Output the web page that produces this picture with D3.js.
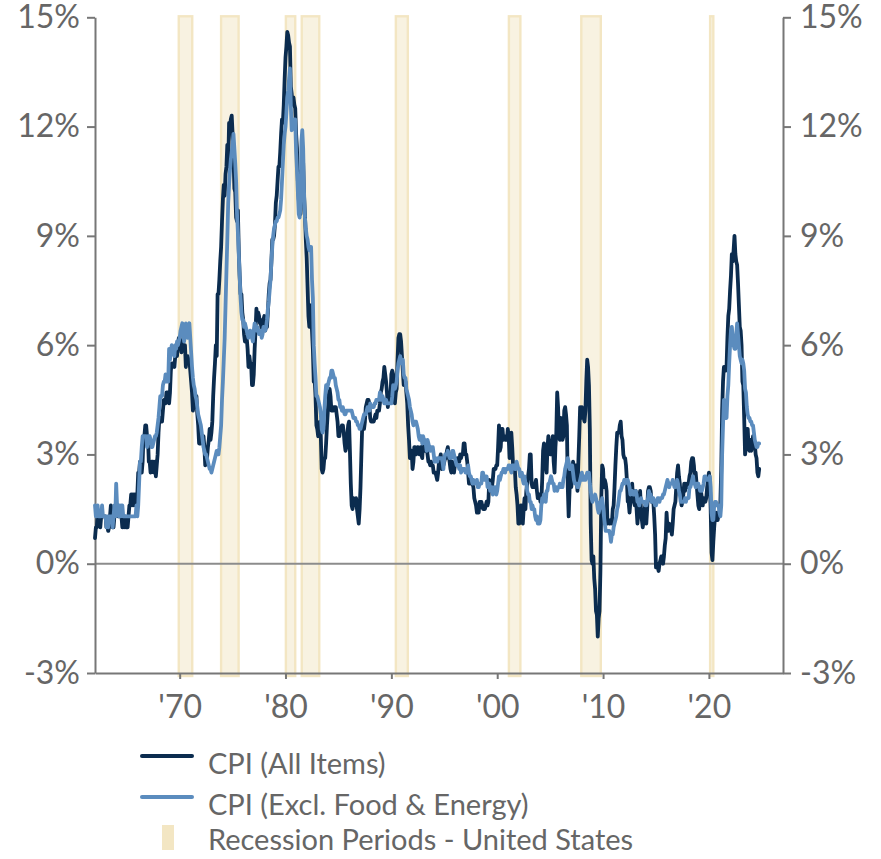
<!DOCTYPE html>
<html><head><meta charset="utf-8">
<script src="https://cdn.jsdelivr.net/npm/d3@7"></script>
<style>
body{margin:0;background:#fff}
svg{display:block}
text{font-family:Lato,"Source Sans Pro","Noto Sans",sans-serif}
</style>
</head><body>
<svg id="chart" width="881" height="859"></svg>
<script>
// ---------- DATA (monthly year-over-year %, starting Jan 1962) ----------
const startYear = 1962;
const cpiAll = [
0.7,1.0,1.0,1.3,1.3,1.3,1.0,1.3,1.3,1.3,1.3,1.3,
1.3,1.0,1.0,0.9,1.0,1.3,1.6,1.3,1.0,1.0,1.3,1.6,
1.6,1.6,1.3,1.3,1.3,1.3,1.3,1.0,1.3,1.0,1.3,1.0,
1.0,1.0,1.3,1.6,1.6,1.9,1.6,1.9,1.6,1.9,1.6,1.9,
1.9,2.5,2.5,2.8,2.8,2.5,2.8,3.5,3.5,3.8,3.8,3.5,
3.5,2.8,2.8,2.5,2.8,2.8,2.8,2.5,2.8,2.4,2.7,3.0,
3.6,4.0,4.0,3.9,3.9,4.2,4.5,4.5,4.4,4.7,4.7,4.7,
4.4,4.7,5.3,5.5,5.5,5.5,5.4,5.7,5.7,5.7,6.0,6.2,
6.2,6.1,5.8,6.1,6.0,6.0,6.0,5.4,5.7,5.7,5.6,5.6,
5.3,5.0,4.7,4.2,4.4,4.6,4.4,4.6,4.1,3.8,3.3,3.3,
3.3,3.5,3.5,3.5,3.2,2.7,2.9,2.9,3.2,3.4,3.7,3.4,
3.6,3.9,4.6,5.1,5.5,6.0,5.7,7.4,7.4,7.8,8.3,8.7,
9.4,10.0,10.4,10.1,10.7,10.9,11.5,10.9,12.1,12.0,12.2,12.3,
11.8,11.2,10.3,10.2,9.5,9.4,9.7,8.6,7.9,7.4,7.4,6.9,
6.7,6.3,6.1,6.1,6.2,5.9,5.4,5.7,5.5,5.5,4.9,4.9,
5.2,5.9,6.4,7.0,6.7,6.9,6.8,6.6,6.6,6.4,6.7,6.7,
6.8,6.4,6.6,6.5,6.9,7.4,7.7,7.8,8.3,8.9,8.9,9.0,
9.3,9.9,10.1,10.5,10.9,10.9,11.3,11.8,12.2,12.1,12.6,13.3,
13.9,14.2,14.6,14.5,14.3,14.2,13.1,12.9,12.6,12.8,12.6,12.5,
11.8,11.4,10.5,10.0,9.8,9.6,10.8,10.8,11.0,10.1,9.6,8.9,
8.4,7.6,6.8,6.5,6.7,7.1,6.4,5.9,5.0,5.1,4.6,3.8,
3.7,3.5,3.6,3.9,3.5,2.6,2.5,2.6,2.9,2.9,3.3,3.8,
4.2,4.6,4.8,4.6,4.2,4.2,4.2,4.3,4.3,4.3,4.1,3.9,
3.5,3.5,3.7,3.7,3.8,3.8,3.6,3.3,3.1,3.2,3.5,3.8,
3.9,3.1,2.2,1.6,1.5,1.8,1.6,1.6,1.8,1.5,1.3,1.1,
1.5,2.1,3.0,3.8,3.9,3.7,3.9,4.3,4.4,4.5,4.5,4.4,
4.0,3.9,3.9,3.9,3.9,4.0,4.1,4.0,4.2,4.2,4.2,4.4,
4.7,4.8,5.0,5.1,5.4,5.2,5.0,4.7,4.3,4.5,4.7,4.6,
5.2,5.3,5.2,4.7,4.4,4.7,4.8,5.6,6.2,6.3,6.3,6.1,
5.7,5.3,4.9,4.9,5.0,4.7,4.4,3.8,3.4,2.9,3.0,3.1,
2.6,2.8,3.2,3.2,3.0,3.1,3.2,3.1,3.0,3.2,3.0,2.9,
3.3,3.2,3.1,3.2,3.2,3.0,2.8,2.8,2.7,2.8,2.7,2.7,
2.5,2.5,2.5,2.4,2.3,2.5,2.8,2.9,3.0,2.6,2.7,2.7,
2.8,2.9,2.9,3.1,3.2,3.0,2.8,2.6,2.5,2.8,2.6,2.5,
2.7,2.7,2.8,2.9,2.9,2.8,3.0,2.9,3.0,3.0,3.3,3.3,
3.0,3.0,2.8,2.5,2.2,2.3,2.2,2.2,2.2,2.1,1.8,1.7,
1.6,1.4,1.4,1.4,1.7,1.7,1.7,1.6,1.5,1.5,1.5,1.6,
1.7,1.6,1.7,2.3,2.1,2.0,2.1,2.3,2.6,2.6,2.6,2.7,
2.7,3.2,3.8,3.1,3.2,3.7,3.7,3.4,3.5,3.4,3.4,3.4,
3.7,3.5,2.9,3.3,3.6,3.2,2.7,2.7,2.6,2.1,1.9,1.6,
1.1,1.1,1.5,1.6,1.2,1.1,1.5,1.8,1.5,2.0,2.2,2.4,
2.6,3.0,3.0,2.2,2.1,2.1,2.1,2.2,2.3,2.0,1.8,1.9,
1.9,1.7,1.7,2.3,3.1,3.3,3.0,2.7,2.5,3.2,3.5,3.3,
3.0,3.0,3.1,3.5,2.8,2.5,3.2,3.6,4.7,4.3,3.5,3.4,
4.0,3.6,3.4,3.5,4.2,4.3,4.1,3.8,2.1,1.3,2.0,2.5,
2.1,2.4,2.8,2.6,2.7,2.7,2.4,2.0,2.8,3.5,4.3,4.1,
4.3,4.0,4.0,3.9,4.2,5.0,5.6,5.4,4.9,3.7,1.1,0.1,
0.0,0.2,-0.4,-0.7,-1.3,-1.4,-2.0,-1.5,-1.3,-0.2,1.8,2.7,
2.6,2.1,2.3,2.2,2.0,1.1,1.2,1.1,1.1,1.2,1.1,1.5,
1.6,2.1,2.7,3.2,3.6,3.6,3.6,3.8,3.9,3.5,3.4,3.0,
2.9,2.9,2.7,2.3,1.7,1.7,1.4,1.7,2.0,2.2,1.8,1.7,
1.6,2.0,1.5,1.1,1.4,1.8,2.0,1.5,1.2,1.0,1.2,1.5,
1.6,1.1,1.5,2.0,2.1,2.1,2.0,1.7,1.7,1.7,1.3,0.8,
-0.1,0.0,-0.1,-0.2,0.0,0.1,0.2,0.2,0.0,0.2,0.5,0.7,
1.4,1.0,0.9,1.1,1.0,1.0,0.8,1.1,1.5,1.6,1.7,2.1,
2.5,2.7,2.4,2.2,1.9,1.6,1.7,1.9,2.2,2.0,2.2,2.1,
2.1,2.2,2.4,2.5,2.8,2.9,2.9,2.7,2.3,2.5,2.2,1.9,
1.6,1.5,1.9,2.0,1.8,1.6,1.8,1.7,1.7,1.8,2.1,2.3,
2.5,2.3,1.5,0.3,0.1,0.6,1.0,1.3,1.4,1.2,1.2,1.4,
1.4,1.7,2.6,4.2,5.0,5.4,5.4,5.3,5.4,6.2,6.8,7.0,
7.5,7.9,8.5,8.3,8.6,9.0,8.5,8.3,8.2,7.7,7.1,6.5,
6.4,6.0,5.0,4.9,4.0,3.0,3.2,3.7,3.7,3.2,3.1,3.4,
3.1,3.2,3.5,3.4,3.3,3.0,2.9,2.5,2.4,2.6
];
const cpiCore = [
1.6,1.3,1.3,1.6,1.3,1.3,1.3,1.3,1.6,1.3,1.3,1.3,
1.3,1.0,1.3,1.0,1.3,1.3,1.3,1.3,1.0,1.3,1.6,1.3,
2.2,1.6,1.6,1.3,1.6,1.3,1.6,1.6,1.3,1.3,1.3,1.3,
1.3,1.3,1.3,1.3,1.3,1.3,1.3,1.3,1.3,1.3,1.3,1.6,
1.3,1.6,2.2,2.8,2.8,3.2,3.5,3.5,3.5,3.5,3.5,3.2,
3.5,3.5,3.5,3.4,3.2,3.2,3.3,3.4,3.5,3.5,3.6,3.8,
4.0,4.3,4.6,4.6,4.6,4.9,5.0,5.0,5.2,5.0,5.2,5.0,
5.9,5.6,5.8,6.0,5.8,5.9,5.7,6.0,5.9,6.1,6.0,6.1,
6.2,6.4,6.5,6.6,6.4,6.1,6.3,6.6,6.3,6.2,6.5,6.6,
6.2,5.8,5.4,5.1,4.9,4.8,4.6,4.5,4.3,4.1,4.0,3.9,
3.8,3.6,3.4,3.2,3.1,3.0,3.0,2.9,2.8,2.7,2.6,2.6,
2.5,2.6,2.7,2.8,2.9,3.0,3.1,3.1,3.0,3.2,3.5,3.8,
4.5,5.0,5.6,6.2,7.1,8.0,8.9,9.9,10.4,10.8,11.1,11.3,
11.5,11.8,11.4,11.0,10.5,9.6,9.1,8.5,7.9,7.3,6.9,6.7,
6.7,6.5,6.6,6.5,6.4,6.3,6.2,6.3,6.4,6.3,6.2,6.1,
6.4,6.6,6.5,6.4,6.5,6.4,6.3,6.3,6.4,6.2,6.3,6.5,
6.4,6.4,6.5,6.7,7.0,7.2,7.5,7.8,8.3,8.7,9.0,9.2,
9.3,9.4,9.4,9.5,9.5,9.6,9.7,10.0,10.5,11.0,11.5,11.8,
12.0,12.4,12.8,13.0,13.3,13.6,12.6,11.9,12.0,12.1,12.2,12.2,
11.3,10.8,10.2,9.6,9.5,9.8,11.6,11.9,11.4,10.2,9.5,9.2,
9.0,8.9,8.7,8.6,8.7,8.7,7.8,7.3,6.0,5.5,5.1,4.6,
4.6,4.5,4.4,4.3,4.1,3.7,3.6,3.7,4.2,4.6,4.9,4.8,
4.9,5.0,5.1,5.1,5.3,5.3,5.2,5.1,5.1,4.9,4.8,4.7,
4.5,4.5,4.3,4.3,4.2,4.3,4.2,4.1,4.1,4.2,4.2,4.2,
4.2,4.2,4.2,4.2,4.1,4.0,4.0,4.0,3.9,3.9,3.8,3.8,
3.7,3.7,3.8,3.9,4.0,4.1,4.1,4.1,4.2,4.3,4.2,4.2,
4.4,4.3,4.3,4.3,4.3,4.4,4.4,4.5,4.5,4.5,4.5,4.7,
4.5,4.5,4.6,4.5,4.4,4.4,4.5,4.4,4.4,4.4,4.4,4.4,
4.4,4.6,4.9,4.8,4.8,4.9,5.0,5.3,5.5,5.6,5.7,5.5,
5.6,5.6,5.2,5.1,5.1,4.8,4.7,4.6,4.5,4.3,4.2,4.1,
3.9,3.8,3.9,3.9,3.9,3.8,3.7,3.5,3.4,3.5,3.5,3.3,
3.5,3.4,3.4,3.3,3.1,3.4,3.3,3.2,3.1,3.2,3.1,3.2,
3.0,2.8,2.9,2.8,2.8,2.9,2.9,2.9,2.9,2.9,2.8,2.6,
2.9,3.0,3.0,3.0,3.1,3.0,2.9,3.0,2.9,3.1,3.1,3.0,
2.9,2.8,2.7,2.7,2.7,2.6,2.7,2.5,2.6,2.6,2.6,2.6,
2.5,2.5,2.5,2.7,2.5,2.4,2.4,2.3,2.2,2.3,2.2,2.2,
2.2,2.3,2.1,2.1,2.2,2.2,2.2,2.5,2.5,2.3,2.3,2.4,
2.4,2.1,2.1,2.2,2.0,2.1,2.1,1.9,2.0,2.1,2.1,1.9,
2.0,2.2,2.4,2.3,2.4,2.5,2.5,2.6,2.6,2.5,2.6,2.6,
2.6,2.7,2.7,2.6,2.5,2.7,2.7,2.7,2.6,2.6,2.8,2.7,
2.6,2.6,2.4,2.5,2.5,2.3,2.2,2.4,2.2,2.2,2.0,1.9,
1.9,1.7,1.7,1.5,1.6,1.5,1.5,1.3,1.2,1.3,1.1,1.1,
1.1,1.2,1.6,1.8,1.7,1.9,1.8,1.7,2.0,2.0,2.2,2.2,
2.3,2.4,2.3,2.2,2.2,2.0,2.1,2.1,2.0,2.1,2.1,2.2,
2.1,2.1,2.1,2.3,2.4,2.6,2.7,2.8,2.9,2.8,2.6,2.6,
2.7,2.7,2.5,2.3,2.2,2.2,2.2,2.1,2.1,2.2,2.3,2.4,
2.5,2.3,2.4,2.3,2.3,2.4,2.5,2.5,2.5,2.2,2.0,1.8,
1.7,1.8,1.8,1.9,1.8,1.7,1.5,1.4,1.5,1.7,1.7,1.8,
1.6,1.3,1.1,0.9,0.9,0.9,0.9,0.9,0.8,0.6,0.8,0.8,
1.0,1.1,1.2,1.3,1.5,1.6,1.8,2.0,2.0,2.1,2.2,2.2,
2.3,2.2,2.3,2.3,2.3,2.2,2.1,1.9,2.0,2.0,1.9,1.9,
1.9,2.0,1.9,1.7,1.7,1.6,1.7,1.8,1.7,1.7,1.7,1.7,
1.6,1.6,1.7,1.8,2.0,1.9,1.9,1.7,1.7,1.8,1.7,1.6,
1.6,1.7,1.8,1.8,1.7,1.8,1.8,1.8,1.9,1.9,2.0,2.1,
2.2,2.3,2.2,2.1,2.2,2.2,2.2,2.3,2.2,2.1,2.1,2.2,
2.3,2.2,2.0,1.9,1.7,1.7,1.7,1.7,1.7,1.8,1.7,1.8,
1.8,1.8,2.1,2.1,2.2,2.3,2.4,2.2,2.2,2.1,2.2,2.2,
2.2,2.1,2.0,2.1,2.0,2.1,2.2,2.4,2.4,2.3,2.3,2.3,
2.3,2.4,2.1,1.4,1.2,1.2,1.6,1.7,1.7,1.6,1.6,1.6,
1.4,1.3,1.6,3.0,3.8,4.5,4.3,4.0,4.0,4.6,4.9,5.5,
6.0,6.4,6.5,6.2,6.0,5.9,5.9,6.3,6.6,6.3,6.0,5.7,
5.6,5.5,5.6,5.5,5.3,4.8,4.7,4.3,4.1,4.0,4.0,3.9,
3.9,3.8,3.8,3.6,3.4,3.3,3.2,3.2,3.3,3.3
];
// Recession shading periods as drawn (decimal years)
const recessionStart = [1969.80, 1973.80, 1979.92, 1981.42, 1990.31, 2000.99, 2007.83, 2020.00];
const recessionEnd   = [1971.30, 1975.68, 1981.03, 1983.30, 1991.67, 2002.30, 2009.90, 2020.53];
const yTicks = [-3, 0, 3, 6, 9, 12, 15];
const xTicks = [1970, 1980, 1990, 2000, 2010, 2020];
const xTickLabels = ["'70", "'80", "'90", "'00", "'10", "'20"];
const seriesNames = ["CPI (All Items)", "CPI (Excl. Food & Energy)", "Recession Periods - United States"];

// ---------- STYLE ----------
const C_ALL = "#0b2c4f", C_CORE = "#5b8cbe";
const BAND_FILL = "#f8f2e1", BAND_EDGE = "#f3e6c3";
const AXIS = "#777", TXT = "#666";
const FS = 32;

const svg = d3.select("#chart");
const x = d3.scaleLinear().domain([1962, 2027]).range([95, 783]);
const y = d3.scaleLinear().domain([-3, 15]).range([673, 17.3]);

// recession bands
const bands = recessionStart.map((s, i) => ({s, e: recessionEnd[i]}));
svg.append("g").selectAll("rect").data(bands).join("rect")
  .attr("x", d => x(d.s) + 1.2)
  .attr("width", d => x(d.e) - x(d.s) - 2.4)
  .attr("y", y(15) - 1)
  .attr("height", y(-3) - y(15) + 4)
  .attr("fill", BAND_FILL)
  .attr("stroke", BAND_EDGE)
  .attr("stroke-width", 2.4);

// zero line
svg.append("line")
  .attr("x1", x(1962)).attr("x2", x(2027))
  .attr("y1", y(0)).attr("y2", y(0))
  .attr("stroke", "#8c8c8c").attr("stroke-width", 2);

// axes
function styleAxis(g) {
  g.select(".domain").attr("stroke", AXIS).attr("stroke-width", 2);
  g.selectAll(".tick line").attr("stroke", AXIS).attr("stroke-width", 2);
  g.selectAll(".tick text").attr("fill", TXT).style("font-size", FS + "px");
}
svg.append("g").attr("transform", `translate(${x(1962)},0)`)
  .call(d3.axisLeft(y).tickValues(yTicks).tickFormat(d => d + "%").tickSize(8).tickSizeOuter(0).tickPadding(7))
  .call(styleAxis);
svg.append("g").attr("transform", `translate(${x(2027)},0)`)
  .call(d3.axisRight(y).tickValues(yTicks).tickFormat(d => d + "%").tickSize(8).tickSizeOuter(0).tickPadding(9))
  .call(styleAxis);
svg.append("g").attr("transform", `translate(0,${y(-3)})`)
  .call(d3.axisBottom(x).tickValues(xTicks).tickFormat((d, i) => xTickLabels[i]).tickSize(6).tickSizeOuter(0).tickPadding(16))
  .call(styleAxis);
svg.selectAll(".domain").attr("fill", "none");

// lines
const line = d3.line()
  .x((d, i) => x(startYear + i / 12))
  .y(d => y(d))
  .curve(d3.curveLinear);
svg.append("path").datum(cpiAll)
  .attr("d", line).attr("fill", "none").attr("stroke", C_ALL)
  .attr("stroke-width", 3.8).attr("stroke-linejoin", "round").attr("stroke-linecap", "round");
svg.append("path").datum(cpiCore)
  .attr("d", line).attr("fill", "none").attr("stroke", C_CORE)
  .attr("stroke-width", 3.8).attr("stroke-linejoin", "round").attr("stroke-linecap", "round");

// legend
const lg = svg.append("g");
const legendRows = [
  {name: seriesNames[0], type: "line", color: C_ALL, markY: 756, textY: 774},
  {name: seriesNames[1], type: "line", color: C_CORE, markY: 797, textY: 815},
  {name: seriesNames[2], type: "rect", color: BAND_EDGE, markY: 825, textY: 850}
];
legendRows.forEach(r => {
  if (r.type === "line") {
    lg.append("line").attr("x1", 142).attr("x2", 192).attr("y1", r.markY).attr("y2", r.markY)
      .attr("stroke", r.color).attr("stroke-width", 4).attr("stroke-linecap", "round");
  } else {
    lg.append("rect").attr("x", 162).attr("y", r.markY).attr("width", 12).attr("height", 25)
      .attr("fill", r.color);
  }
  lg.append("text").attr("x", 208).attr("y", r.textY).text(r.name)
    .attr("fill", TXT).style("font-size", "29px");
});
</script>
</body></html>
